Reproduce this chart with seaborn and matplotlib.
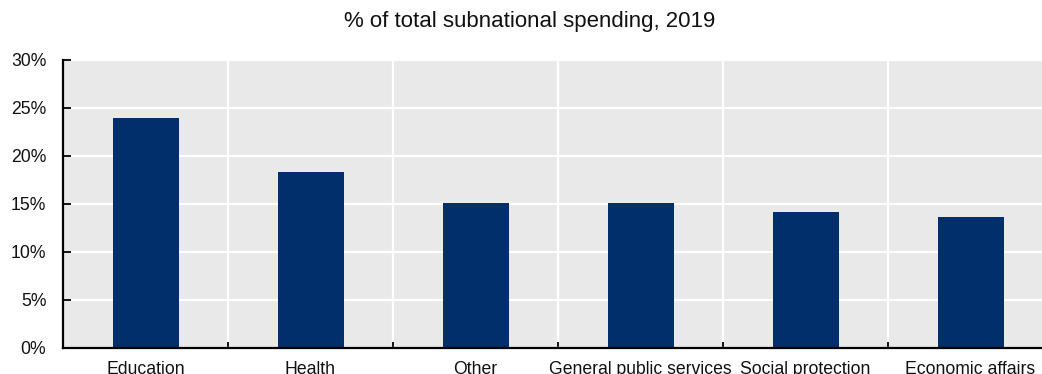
import matplotlib
matplotlib.use("Agg")
import matplotlib.pyplot as plt
from matplotlib.ticker import FixedLocator, PercentFormatter
import seaborn as sns
import pandas as pd

categories = ["Education", "Health", "Other", "General public services",
              "Social protection", "Economic affairs"]
shares = [24.0, 18.3, 15.1, 15.1, 14.2, 13.6]
y_ticks = [0, 5, 10, 15, 20, 25, 30]

df = pd.DataFrame({"category": categories, "share": shares})

sns.set_theme(style="white")
plt.rcParams["font.family"] = ["Liberation Sans", "DejaVu Sans"]

fig = plt.figure(figsize=(10.42, 3.74), dpi=100)
ax = fig.add_axes([63 / 1042, 26 / 374, 990 / 1042, 288 / 374])
ax.set_facecolor("#e9e9e9")

sns.barplot(data=df, x="category", y="share", color="#002F6C",
            width=0.4, saturation=1, linewidth=0, ax=ax, zorder=3)

ax.set_xlim(-0.5, len(categories) - 0.5)
ax.set_ylim(0, 30)
ax.set_yticks(y_ticks)
ax.yaxis.set_major_formatter(PercentFormatter(decimals=0))
ax.xaxis.set_minor_locator(FixedLocator([i + 0.5 for i in range(len(categories) - 1)]))

ax.grid(axis="y", which="major", color="white", linewidth=1.6, zorder=0)
ax.grid(axis="x", which="minor", color="white", linewidth=1.6, zorder=0)
ax.set_axisbelow(True)

for side in ("top", "right"):
    ax.spines[side].set_visible(False)
for side in ("left", "bottom"):
    ax.spines[side].set_color("black")
    ax.spines[side].set_linewidth(1.6)
    ax.spines[side].set_zorder(4)

ax.tick_params(axis="y", which="major", direction="in", length=6, width=1.3,
               color="black", labelsize=12.7, pad=12, labelcolor="#111111", left=True)
ax.tick_params(axis="x", which="major", length=0, labelsize=12.7, pad=9,
               labelcolor="#111111")
ax.tick_params(axis="x", which="minor", direction="in", length=4, width=1.3,
               color="black", bottom=True)

ax.set_xlabel("")
ax.set_ylabel("")

fig.text(530 / 1042, 1 - 22 / 374, "% of total subnational spending, 2019",
         ha="center", va="center", fontsize=16, color="#111111")

fig.savefig("out.png", dpi=100)
